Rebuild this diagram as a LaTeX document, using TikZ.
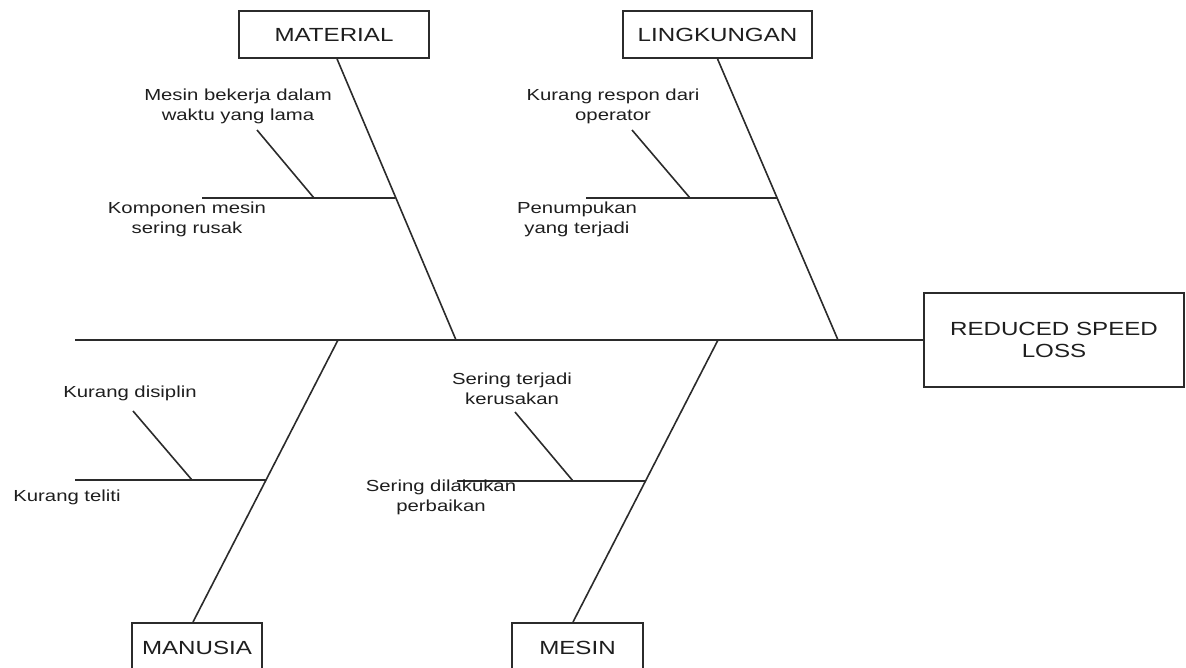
\documentclass[tikz,border=0pt]{standalone}
\usepackage{fontspec}
\setmainfont{Liberation Sans}[FakeStretch=1.27]
\definecolor{ink}{HTML}{2B2B2B}
\definecolor{txt}{HTML}{1E1E1E}
\tikzset{
  bone/.style={draw=ink, line width=1.6pt},
  catbox/.style={draw=ink, line width=1.7pt, fill=white, inner sep=0pt,
    text=txt, font=\fontsize{19}{22}\selectfont, align=center},
  lbl/.style={align=center, inner sep=0pt, text=txt, font=\fontsize{16}{20}\selectfont}
}
\begin{document}
\begin{tikzpicture}[x=1pt,y=-1pt]
\useasboundingbox (0,0) rectangle (1186,668);
\clip (0,0) rectangle (1186,668);
% head and category boxes
\node[catbox, minimum width=260pt, minimum height=94pt] (head) at (1054,340) {REDUCED SPEED\\LOSS};
\node[catbox, minimum width=190pt, minimum height=47pt] (material) at (334,34.5) {MATERIAL};
\node[catbox, minimum width=189pt, minimum height=47pt] (lingkungan) at (717.5,34.5) {LINGKUNGAN};
\node[catbox, minimum width=130pt, minimum height=50pt, anchor=north] (manusia) at (197,622) {MANUSIA};
\node[catbox, minimum width=131pt, minimum height=50pt, anchor=north] (mesin) at (577.5,622) {MESIN};
% spine
\coordinate (tail) at (75,340);
\coordinate (mS) at (456,340);
\coordinate (lS) at (838,340);
\coordinate (nS) at (338,340);
\coordinate (eS) at (718,340);
\draw[bone] (tail) -- (head.west);
% main bones
\draw[bone] ([xshift=3pt]material.south) -- (mS);
\draw[bone] (lingkungan.south) -- (lS);
\draw[bone] ([xshift=-4pt]manusia.north) -- (nS);
\draw[bone] ([xshift=-4.5pt]mesin.north) -- (eS);
% MATERIAL branch
\coordinate (m1a) at (202,198); \coordinate (m1b) at (395,198);
\coordinate (m2a) at (257,130); \coordinate (m2b) at (314,198);
\draw[bone] (m1a) -- (m1b);
\draw[bone] (m2a) -- (m2b);
% LINGKUNGAN branch
\coordinate (l1a) at (586,198); \coordinate (l1b) at (777,198);
\coordinate (l2a) at (632,130); \coordinate (l2b) at (690,198);
\draw[bone] (l1a) -- (l1b);
\draw[bone] (l2a) -- (l2b);
% MANUSIA branch
\coordinate (n1a) at (75,480); \coordinate (n1b) at (266,480);
\coordinate (n2a) at (133,411); \coordinate (n2b) at (192,480);
\draw[bone] (n1a) -- (n1b);
\draw[bone] (n2a) -- (n2b);
% MESIN branch
\coordinate (e1a) at (457,481); \coordinate (e1b) at (645,481);
\coordinate (e2a) at (515,412); \coordinate (e2b) at (573,481);
\draw[bone] (e1a) -- (e1b);
\draw[bone] (e2a) -- (e2b);
% labels
\node[lbl] (t1) at (238,106) {Mesin bekerja dalam\\waktu yang lama};
\node[lbl] (t2) at (187,219) {Komponen mesin\\sering rusak};
\node[lbl] (t3) at (613,106) {Kurang respon dari\\operator};
\node[lbl] (t4) at (577,219) {Penumpukan\\yang terjadi};
\node[lbl] (t5) at (130,393) {Kurang disiplin};
\node[lbl] (t6) at (67,497) {Kurang teliti};
\node[lbl] (t7) at (512,389) {Sering terjadi\\kerusakan};
\node[lbl] (t8) at (441,497) {Sering dilakukan\\perbaikan};
\end{tikzpicture}
\end{document}
